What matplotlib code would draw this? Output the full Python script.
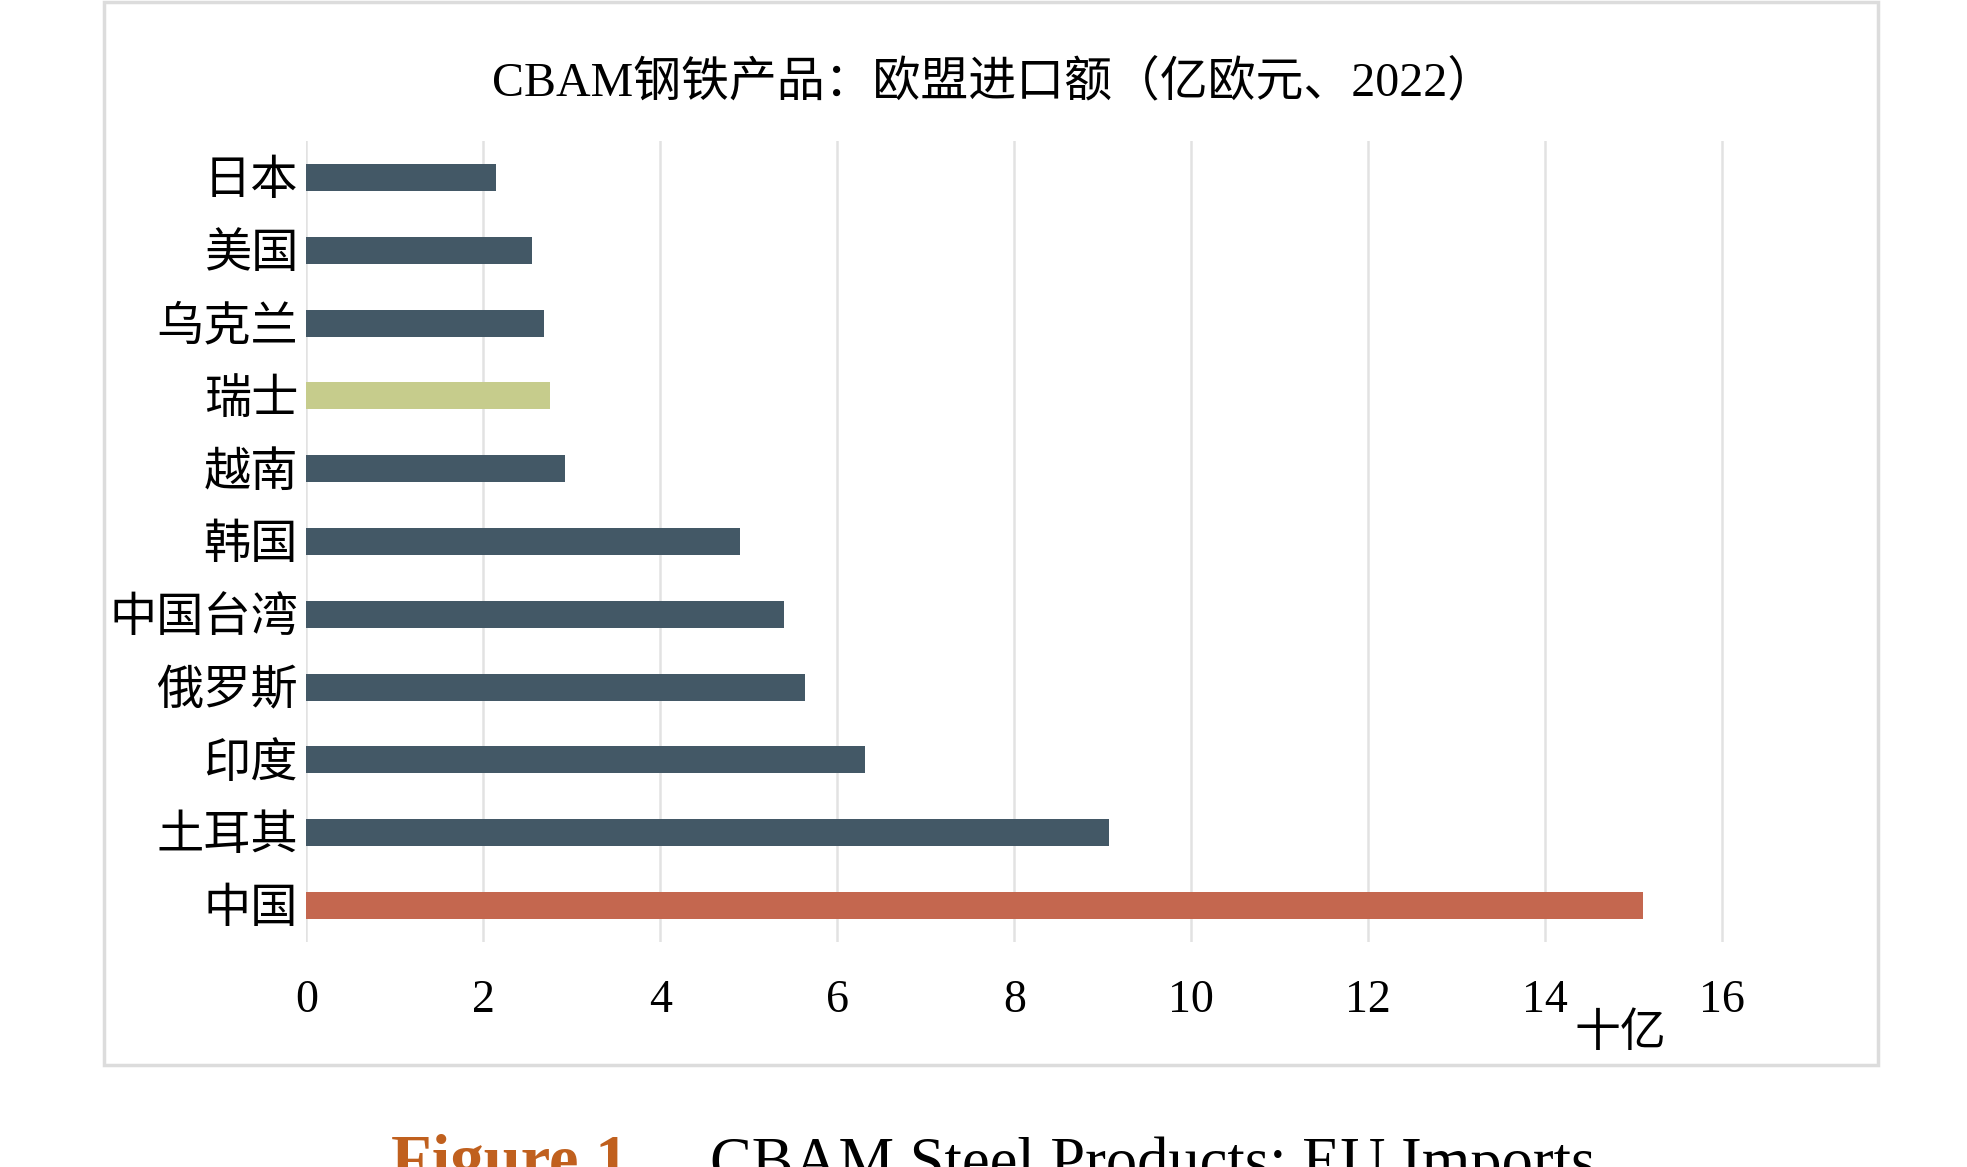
import matplotlib
matplotlib.use("Agg")
import matplotlib.pyplot as plt
from matplotlib.patches import Rectangle

# Données (milliards d'euros), de haut en bas
pays = ["日本", "美国", "乌克兰", "瑞士", "越南", "韩国", "中国台湾", "俄罗斯", "印度", "土耳其", "中国"]
valeurs = [2.14, 2.55, 2.68, 2.75, 2.92, 4.90, 5.40, 5.64, 6.31, 9.07, 15.11]
couleurs = ["#435866"] * 11
couleurs[3] = "#C6CC8C"   # 瑞士
couleurs[10] = "#C4674F"  # 中国
graduations = [0, 2, 4, 6, 8, 10, 12, 14, 16]

titre = "CBAM钢铁产品：欧盟进口额（亿欧元、2022）"
unite = "十亿"

plt.rcParams["font.family"] = ["Liberation Serif", "Noto Sans CJK SC", "DejaVu Sans"]

fig = plt.figure(figsize=(19.67, 11.67), dpi=100)
fig.patch.set_facecolor("white")

# cadre gris autour du graphique
fig.patches.append(Rectangle((0.053, 0.087), 0.902, 0.911, transform=fig.transFigure,
                             fill=False, edgecolor="#DCDCDC", linewidth=2.5))

ax = fig.add_axes([0.1558, 0.193, 0.721, 0.686])
y = list(range(len(pays)))
ax.barh(y, valeurs, height=0.37, color=couleurs, zorder=3)
ax.set_ylim(len(pays) - 0.5, -0.5)
ax.set_xlim(0, 16.03)
ax.set_xticks(graduations)
ax.set_yticks(y)
ax.set_yticklabels(pays, fontsize=34)
ax.tick_params(axis="x", length=0, pad=27, labelsize=33)
ax.tick_params(axis="y", length=0, pad=6)
ax.grid(axis="x", color="#E2E2E2", linewidth=1.8, zorder=0)
for s in ax.spines.values():
    s.set_visible(False)

fig.text(0.505, 0.929, titre, ha="center", va="center", fontsize=34.5)
fig.text(0.824, 0.113, unite, ha="center", va="center", fontsize=33)

# légende sous le cadre (coupée en bas comme dans l'original)
fig.text(0.199, -0.012, "Figure 1.", ha="left", va="baseline", fontsize=48,
         fontweight="bold", color="#C0601E", family="Liberation Serif")
fig.text(0.361, -0.012, "CBAM Steel Products: EU Imports", ha="left", va="baseline",
         fontsize=45, color="black", family="Liberation Serif")

fig.savefig("out.png", dpi=100)
